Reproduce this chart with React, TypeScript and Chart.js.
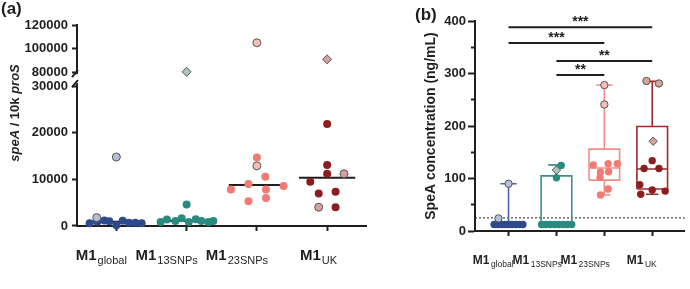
import React, { useEffect, useRef } from "react";
import { Chart, registerables } from "chart.js";

Chart.register(...registerables);

const FONT = "'Liberation Sans', Arial, Helvetica, sans-serif";
const INK = "#1f1f1f";

// ---------------- shared categories ----------------
const groupPrefix = "M1";
const groupSubscripts = ["global", "13SNPs", "23SNPs", "UK"];

// ---------------- panel (a): speA / 10k proS ----------------
const aLowTicks = [0, 10000, 20000, 30000];
const aHighTicks = [80000, 100000, 120000];
const aLowMax = 31500;
const aHighMin = 74300;
const aHighMax = 120000;

const aGlobalDark = [600, 900, 1200, 1000, 150, 1100, 700, 700, 600];
const aGlobalDarkX = [-0.38, -0.27, -0.17, -0.1, 0, 0.09, 0.18, 0.27, 0.36];
const aGlobalLight = [1800, 14800];
const aGlobalLightX = [-0.28, 0];

const a13Dark = [860, 1380, 1080, 1660, 860, 1440, 1080, 860, 1080, 4600];
const a13DarkX = [-0.37, -0.28, -0.16, -0.07, 0.03, 0.13, 0.21, 0.31, 0.38, 0];
const a13Diamond = [80500];
const a13DiamondX = [0];

const a23Dark = [14700, 10560, 8990, 8560, 7840, 7840, 5320, 6030];
const a23DarkX = [0, 0.12, -0.12, 0.38, -0.37, 0.13, -0.12, 0.13];
const a23Light = [105000, 12900];
const a23LightX = [0, 0];

const aUKDark = [21900, 13080, 11200, 9480, 6980, 7330, 4030];
const aUKDarkX = [0, 0, 0, -0.24, -0.12, 0.12, 0.12];
const aUKLight = [11200, 4030];
const aUKLightX = [0.24, -0.12];
const aUKDiamond = [91000];
const aUKDiamondX = [0];

const aMedians = [900, 1080, 8775, 10340];

// ---------------- panel (b): SpeA concentration ----------------
const bGlobalDark = [12.5, 12.5, 12.5, 12.5, 12.5, 12.5, 12.5, 12.5, 12.5];
const bGlobalDarkX = [-0.3, -0.225, -0.15, -0.075, 0, 0.075, 0.15, 0.225, 0.3];
const bGlobalLight = [24, 90];
const bGlobalLightX = [-0.21, 0];

const b13Dark = [12.5, 12.5, 12.5, 12.5, 12.5, 12.5, 12.5, 12.5, 101.5, 125];
const b13DarkX = [-0.31, -0.22, -0.13, -0.04, 0.05, 0.14, 0.23, 0.32, 0, 0.1];
const b13Diamond = [116];
const b13DiamondX = [0];

const b23Dark = [125.7, 128, 128, 112, 113, 102, 80, 68.6];
const b23DarkX = [-0.23, 0.08, 0.27, -0.08, 0.09, -0.09, 0.08, -0.08];
const b23Light = [278, 241];
const b23LightX = [0, 0];

const bUKDark = [134, 119, 119, 88, 78, 76, 70];
const bUKDarkX = [0, -0.17, 0.14, -0.26, 0, 0.27, -0.24];
const bUKLight = [285.7, 281];
const bUKLightX = [-0.12, 0.14];
const bUKDiamond = [171];
const bUKDiamondX = [0.02];

const bMin = [12.5, 12.5, 68.6, 70];
const bQ1 = [12.5, 12.5, 97, 80];
const bMedian = [12.5, 12.5, 120, 118];
const bQ3 = [12.5, 105, 156, 199];
const bMax = [90, 126, 278, 285];

const sigFrom = [0, 0, 1, 1];
const sigTo = [3, 2, 3, 2];
const sigLevel = [388, 358, 324, 297];
const sigText = ["***", "***", "**", "**"];
const lodValue = 25;

const bTicks = [0, 50, 100, 150, 200, 250, 300, 350, 400];

// ---------------- styles ----------------
const navy = "#2d4a8c";
const navyLight = "#b5c0d6";
const teal = "#2b8a80";
const tealLight = "#a9c8b9";
const salmon = "#f07a74";
const salmonLight = "#f4bdb7";
const maroon = "#8c1e1e";
const maroonLight = "#d7a29c";
const boxColors = ["#4b64a6", "#3a9188", "#f28d8a", "#9b2c2c"];
const outline = "#555555";

const aX = { min: -0.56, max: 3.56 };
const bX = { min: -0.7, max: 3.68 };

const W = 690;
const H = 289;
const A_WIDTH = 372;

type St = { bg: string; border: string; bw: number; style: string; r: number };

function pointSet(values: number[], offsets: number[], center: number, st: St, yAxisID: string, order: number) {
  return {
    type: "scatter",
    data: values.map((v, k) => ({ x: center + offsets[k], y: v })),
    yAxisID,
    pointRadius: st.r,
    pointHoverRadius: st.r,
    pointBackgroundColor: st.bg,
    pointBorderColor: st.border,
    pointBorderWidth: st.bw,
    pointStyle: st.style,
    showLine: false,
    clip: false,
    order,
  };
}

function splitA(values: number[], offsets: number[], center: number, st: St, order: number) {
  const lowV: number[] = [], lowX: number[] = [], hiV: number[] = [], hiX: number[] = [];
  values.forEach((v, k) => {
    if (v >= aHighMin) { hiV.push(v); hiX.push(offsets[k]); } else { lowV.push(v); lowX.push(offsets[k]); }
  });
  const out: any[] = [];
  if (lowV.length) out.push(pointSet(lowV, lowX, center, st, "y", order));
  if (hiV.length) out.push(pointSet(hiV, hiX, center, st, "yTop", order));
  return out;
}

function lineSet(points: { x: number | null; y: number | null }[], color: string, width: number, yAxisID: string, dash: number[] = []) {
  return {
    type: "scatter",
    data: points,
    yAxisID,
    showLine: true,
    borderColor: color,
    borderWidth: width,
    borderDash: dash,
    pointRadius: 0,
    pointHoverRadius: 0,
    fill: false,
    spanGaps: false,
    tension: 0,
    clip: false,
    order: 5,
  };
}

function segs(list: number[][][]) {
  const out: { x: number | null; y: number | null }[] = [];
  list.forEach((poly) => {
    poly.forEach(([x, y]) => out.push({ x, y }));
    out.push({ x: null, y: null });
  });
  return out;
}

// Category labels "M1" with a lowered subscript, placed under each category tick.
function xLabelPlugin(id: string, mainSize: number, subSize: number, gap: number, shift: number, endDx: number, baseDy: number) {
  return {
    id,
    afterDraw(chart: any) {
      const ctx = chart.ctx;
      const xs = chart.scales.x;
      const bottom = chart.chartArea.bottom;
      ctx.save();
      ctx.fillStyle = INK;
      ctx.textAlign = "left";
      ctx.textBaseline = "alphabetic";
      groupSubscripts.forEach((sub, i) => {
        const px = xs.getPixelForValue(i);
        ctx.font = `bold ${mainSize}px ${FONT}`;
        const wM = ctx.measureText(groupPrefix).width;
        ctx.font = `normal ${subSize}px ${FONT}`;
        const wS = ctx.measureText(sub).width;
        const L = wM + gap + wS;
        const cx = px + endDx - 0.45 * L;
        const x0 = cx - L / 2;
        const y0 = bottom + baseDy;
        ctx.font = `bold ${mainSize}px ${FONT}`;
        ctx.fillText(groupPrefix, x0, y0);
        ctx.font = `normal ${subSize}px ${FONT}`;
        ctx.fillText(sub, x0 + wM + gap, y0 + shift);
      });
      ctx.restore();
    },
  };
}

const axisBreakPlugin = {
  id: "axisBreak",
  afterDraw(chart: any) {
    const ctx = chart.ctx;
    const yLow = chart.scales.y;
    const ax = yLow.right - 1;
    const yb = yLow.top;
    ctx.save();
    ctx.fillStyle = "#ffffff";
    ctx.fillRect(ax - 3, yb - 5, 6, 9);
    ctx.strokeStyle = INK;
    ctx.lineWidth = 2;
    ctx.beginPath();
    ctx.moveTo(ax + 2, yb - 9);
    ctx.lineTo(ax - 4, yb - 2);
    ctx.moveTo(ax + 2, yb + 1);
    ctx.lineTo(ax - 4, yb + 8);
    ctx.stroke();
    // axis title with italic gene names
    const parts = [
      { t: "speA", f: `italic bold 13px ${FONT}` },
      { t: " / 10k ", f: `bold 13px ${FONT}` },
      { t: "proS", f: `italic bold 13px ${FONT}` },
    ];
    let total = 0;
    parts.forEach((p) => { ctx.font = p.f; total += ctx.measureText(p.t).width; });
    ctx.translate(15, 113);
    ctx.rotate(-Math.PI / 2);
    ctx.fillStyle = INK;
    ctx.textAlign = "left";
    ctx.textBaseline = "middle";
    let x = -total / 2;
    parts.forEach((p) => { ctx.font = p.f; ctx.fillText(p.t, x, 0); x += ctx.measureText(p.t).width; });
    ctx.restore();
  },
};

const starsPlugin = {
  id: "stars",
  afterDraw(chart: any) {
    const ctx = chart.ctx;
    const xs = chart.scales.x;
    const ys = chart.scales.y;
    ctx.save();
    ctx.fillStyle = INK;
    ctx.font = `bold 14px ${FONT}`;
    ctx.textAlign = "center";
    ctx.textBaseline = "alphabetic";
    sigText.forEach((t, k) => {
      const cx = (xs.getPixelForValue(sigFrom[k]) + xs.getPixelForValue(sigTo[k])) / 2;
      ctx.fillText(t, cx, ys.getPixelForValue(sigLevel[k]) - 1);
    });
    ctx.restore();
  },
};

const tickFont = { family: FONT, size: 13, weight: "bold" as const };

function xScale(range: { min: number; max: number }, height: number) {
  return {
    type: "linear",
    min: range.min,
    max: range.max,
    afterBuildTicks: (s: any) => { s.ticks = groupSubscripts.map((_, i) => ({ value: i })); },
    ticks: { display: false },
    grid: { drawOnChartArea: false, drawTicks: true, tickLength: 5, tickWidth: 2, tickColor: INK },
    border: { display: true, color: INK, width: 2 },
    afterFit: (s: any) => { s.height = height; },
  };
}

function buildA(): any {
  const datasets: any[] = [
    ...splitA(aGlobalDark, aGlobalDarkX, 0, { bg: navy, border: navy, bw: 0, style: "circle", r: 4 }, 1),
    ...splitA(aGlobalLight, aGlobalLightX, 0, { bg: navyLight, border: outline, bw: 1, style: "circle", r: 4 }, 0),
    ...splitA(a13Dark, a13DarkX, 1, { bg: teal, border: teal, bw: 0, style: "circle", r: 4 }, 1),
    ...splitA(a13Diamond, a13DiamondX, 1, { bg: tealLight, border: outline, bw: 1, style: "rectRot", r: 4.5 }, 0),
    ...splitA(a23Dark, a23DarkX, 2, { bg: salmon, border: salmon, bw: 0, style: "circle", r: 4 }, 1),
    ...splitA(a23Light, a23LightX, 2, { bg: salmonLight, border: outline, bw: 1, style: "circle", r: 4 }, 0),
    ...splitA(aUKDark, aUKDarkX, 3, { bg: maroon, border: maroon, bw: 0, style: "circle", r: 4 }, 1),
    ...splitA(aUKLight, aUKLightX, 3, { bg: maroonLight, border: outline, bw: 1, style: "circle", r: 4 }, 0),
    ...splitA(aUKDiamond, aUKDiamondX, 3, { bg: maroonLight, border: outline, bw: 1, style: "rectRot", r: 4.5 }, 0),
    lineSet(segs(aMedians.map((m, i) => [[i - 0.4, m], [i + 0.4, m]])), INK, 2, "y"),
  ];
  const yCommon = {
    type: "linear",
    position: "left",
    stack: "a",
    ticks: { callback: (v: any) => String(v), font: tickFont, color: INK, padding: 4, autoSkip: false },
    grid: { drawOnChartArea: false, tickLength: 5, tickWidth: 2, tickColor: INK },
    border: { color: INK, width: 2 },
    afterFit: (s: any) => { s.width = 77; },
  };
  return {
    type: "scatter",
    data: { datasets },
    options: {
      responsive: false,
      animation: false,
      devicePixelRatio: 1,
      layout: { padding: { top: 25, right: 4, left: 0, bottom: 0 } },
      plugins: { legend: { display: false }, tooltip: { enabled: false } },
      scales: {
        x: xScale(aX, 63),
        y: {
          ...yCommon,
          stackWeight: (aLowMax / 1000) * 4.64,
          weight: 0,
          min: 0,
          max: aLowMax,
          afterBuildTicks: (s: any) => { s.ticks = aLowTicks.map((v) => ({ value: v })); },
        },
        yTop: {
          ...yCommon,
          stackWeight: ((aHighMax - aHighMin) / 1000) * 1.18,
          weight: 1,
          min: aHighMin,
          max: aHighMax,
          afterBuildTicks: (s: any) => { s.ticks = aHighTicks.map((v) => ({ value: v })); },
        },
      },
    },
    plugins: [axisBreakPlugin, xLabelPlugin("xlabA", 15, 11, 1, 4, 8, 34)],
  };
}

function buildB(): any {
  const boxes = groupSubscripts.map((_, i) => {
    const hw = 0.32, cw = 0.17, cwLow = 0.13;
    const list: number[][][] = [
      [[i - hw, bQ1[i]], [i + hw, bQ1[i]], [i + hw, bQ3[i]], [i - hw, bQ3[i]], [i - hw, bQ1[i]]],
      [[i - hw, bMedian[i]], [i + hw, bMedian[i]]],
    ];
    if (bMax[i] > bQ3[i]) { list.push([[i, bQ3[i]], [i, bMax[i]]]); list.push([[i - cw, bMax[i]], [i + cw, bMax[i]]]); }
    if (bMin[i] < bQ1[i]) { list.push([[i, bQ1[i]], [i, bMin[i]]]); list.push([[i - cwLow, bMin[i]], [i + cwLow, bMin[i]]]); }
    return lineSet(segs(list), boxColors[i], 1.6, "y");
  });
  const sig = lineSet(segs(sigFrom.map((f, k) => [[f, sigLevel[k]], [sigTo[k], sigLevel[k]]])), INK, 2, "y");
  const lod = lineSet([{ x: bX.min, y: lodValue }, { x: bX.max, y: lodValue }], INK, 1, "y", [2, 2]);
  const datasets: any[] = [
    pointSet(bGlobalDark, bGlobalDarkX, 0, { bg: navy, border: navy, bw: 0, style: "circle", r: 3.7 }, "y", 1),
    pointSet(bGlobalLight, bGlobalLightX, 0, { bg: navyLight, border: outline, bw: 1, style: "circle", r: 3.7 }, "y", 0),
    pointSet(b13Dark, b13DarkX, 1, { bg: teal, border: teal, bw: 0, style: "circle", r: 3.7 }, "y", 1),
    pointSet(b13Diamond, b13DiamondX, 1, { bg: tealLight, border: outline, bw: 1, style: "rectRot", r: 4.2 }, "y", 0),
    pointSet(b23Dark, b23DarkX, 2, { bg: salmon, border: salmon, bw: 0, style: "circle", r: 3.7 }, "y", 1),
    pointSet(b23Light, b23LightX, 2, { bg: salmonLight, border: outline, bw: 1, style: "circle", r: 3.7 }, "y", 0),
    pointSet(bUKDark, bUKDarkX, 3, { bg: maroon, border: maroon, bw: 0, style: "circle", r: 3.7 }, "y", 1),
    pointSet(bUKLight, bUKLightX, 3, { bg: maroonLight, border: outline, bw: 1, style: "circle", r: 3.7 }, "y", 0),
    pointSet(bUKDiamond, bUKDiamondX, 3, { bg: maroonLight, border: outline, bw: 1, style: "rectRot", r: 4.2 }, "y", 0),
    ...boxes,
    sig,
    lod,
  ];
  return {
    type: "scatter",
    data: { datasets },
    options: {
      responsive: false,
      animation: false,
      devicePixelRatio: 1,
      layout: { padding: { top: 21, right: 3, left: 0, bottom: 0 } },
      plugins: { legend: { display: false }, tooltip: { enabled: false } },
      scales: {
        x: xScale(bX, 58),
        y: {
          type: "linear",
          position: "left",
          min: 0,
          max: 400,
          afterBuildTicks: (s: any) => { s.ticks = bTicks.map((v) => ({ value: v })); },
          ticks: {
            callback: (v: any) => (v % 100 === 0 ? String(v) : ""),
            font: tickFont,
            color: INK,
            padding: 2,
            autoSkip: false,
          },
          grid: {
            drawOnChartArea: false,
            tickLength: 7,
            tickWidth: 2,
            tickColor: INK,
            tickBorderDash: (c: any) => (c.tick && c.tick.value % 100 !== 0 ? [0, 3, 20, 0] : []),
          },
          border: { color: INK, width: 2 },
          title: {
            display: true,
            text: "SpeA concentration (ng/mL)",
            color: INK,
            font: { family: FONT, size: 14, weight: "bold" },
            padding: { top: 51, bottom: 0 },
          },
          afterFit: (s: any) => { s.width = 103; },
        },
      },
    },
    plugins: [starsPlugin, xLabelPlugin("xlabB", 12, 8.5, 1.5, 3, 3, 33)],
  };
}

export default function App() {
  const aRef = useRef<HTMLCanvasElement>(null);
  const bRef = useRef<HTMLCanvasElement>(null);
  useEffect(() => {
    const ca = new Chart(aRef.current as HTMLCanvasElement, buildA());
    const cb = new Chart(bRef.current as HTMLCanvasElement, buildB());
    return () => { ca.destroy(); cb.destroy(); };
  }, []);
  const labelStyle: React.CSSProperties = {
    position: "absolute",
    font: `bold 17px ${FONT}`,
    lineHeight: "17px",
    color: INK,
    whiteSpace: "nowrap",
  };
  return (
    <div style={{ position: "absolute", left: 0, top: 0, width: W, height: H, background: "#fff", overflow: "hidden" }}>
      <canvas ref={aRef} width={A_WIDTH} height={H} style={{ position: "absolute", left: 0, top: 0 }} />
      <canvas ref={bRef} width={W - A_WIDTH} height={H} style={{ position: "absolute", left: A_WIDTH, top: 0 }} />
      <div style={{ ...labelStyle, left: 1, top: 0 }}>(a)</div>
      <div style={{ ...labelStyle, left: 415, top: 6 }}>(b)</div>
    </div>
  );
}
